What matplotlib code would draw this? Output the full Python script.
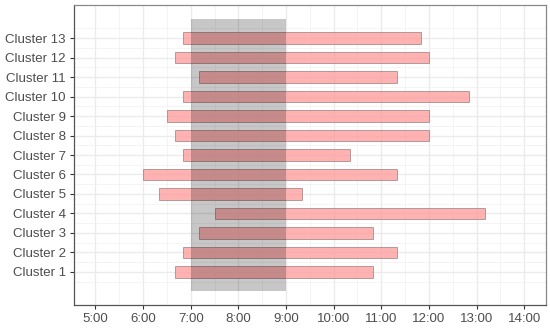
import matplotlib
matplotlib.use("Agg")
import matplotlib.pyplot as plt
from matplotlib.patches import Rectangle

plt.rcParams['font.family'] = ['Liberation Sans', 'DejaVu Sans']

clusters = [f"Cluster {i}" for i in range(1, 14)]
# start / end times in hours
starts = [6 + 40/60, 6 + 50/60, 7 + 10/60, 7.5, 6 + 20/60, 6.0, 6 + 50/60,
          6 + 40/60, 6.5, 6 + 50/60, 7 + 10/60, 6 + 40/60, 6 + 50/60]
ends = [10 + 50/60, 11 + 20/60, 10 + 50/60, 13 + 10/60, 9 + 20/60, 11 + 20/60, 10 + 20/60,
        12.0, 12.0, 12 + 50/60, 11 + 20/60, 12.0, 11 + 50/60]
peak_start, peak_end = 7.0, 9.0
tick_hours = list(range(5, 15))
tick_labels = [f"{h}:00" for h in tick_hours]

fig = plt.figure(figsize=(5.5, 3.29), dpi=100)
ax = fig.add_axes([74/550, 1 - 305/329, (545.7 - 74)/550, (305 - 5)/329])

ys = list(range(1, len(clusters) + 1))
widths = [e - s for s, e in zip(starts, ends)]
ax.barh(ys, widths, left=starts, height=0.6, color=(1.0, 0.6, 0.6, 0.75),
        edgecolor=(0.45, 0.35, 0.35, 0.6), linewidth=0.6, zorder=3)
ax.add_patch(Rectangle((peak_start, 0), peak_end - peak_start, len(clusters) + 1,
                       facecolor="black", alpha=0.22, edgecolor="none", zorder=4))

ax.set_xlim(4.55, 14.45)
ax.set_ylim(-0.7, 14.7)
ax.set_xticks(tick_hours)
ax.set_xticklabels(tick_labels)
ax.set_xticks([h + 0.5 for h in tick_hours[:-1]], minor=True)
ax.set_yticks(ys)
ax.set_yticklabels(clusters)
ax.set_yticks([y + 0.5 for y in range(0, 14)], minor=True)

ax.grid(True, which="major", color="#EBEBEB", linewidth=1.0, zorder=0)
ax.grid(True, which="minor", color="#F2F2F2", linewidth=0.6, zorder=0)
ax.set_axisbelow(True)
ax.tick_params(which="minor", length=0)
ax.tick_params(which="major", length=3, width=0.8, color="#333333",
               labelsize=9.5, labelcolor="#4D4D4D", pad=3)
for s in ax.spines.values():
    s.set_color("#888888")
    s.set_linewidth(0.9)
ax.spines["left"].set_color("#555555")
ax.spines["bottom"].set_color("#555555")

fig.savefig("out.png", dpi=100)
